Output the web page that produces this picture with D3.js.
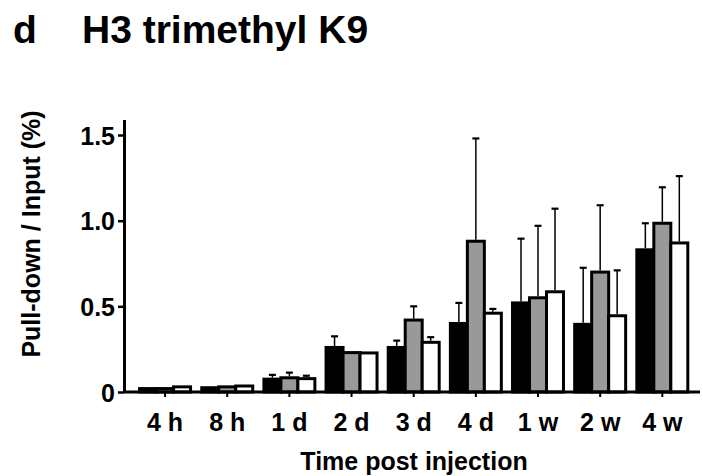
<!DOCTYPE html>
<html>
<head>
<meta charset="utf-8">
<script src="https://cdn.jsdelivr.net/npm/d3@7"></script>
<style>
  body { margin: 0; background: #fff; }
  text { font-family: "Liberation Sans", Arial, sans-serif; font-weight: bold; fill: #000; }
</style>
</head>
<body>
<svg></svg>
<script>
const categories = ['4 h', '8 h', '1 d', '2 d', '3 d', '4 d', '1 w', '2 w', '4 w'];
const seriesNames = ['black', 'gray', 'white'];
// bar heights (%)
const blackVals = [0.02, 0.025, 0.075, 0.26, 0.26, 0.40, 0.52, 0.395, 0.83];
const grayVals  = [0.02, 0.03, 0.083, 0.23, 0.42, 0.88, 0.55, 0.70, 0.985];
const whiteVals = [0.03, 0.035, 0.078, 0.228, 0.29, 0.46, 0.585, 0.445, 0.87];
// upper error (SD)
const blackErr = [0, 0, 0.025, 0.065, 0.04, 0.12, 0.375, 0.33, 0.155];
const grayErr  = [0, 0, 0.03, 0, 0.08, 0.6, 0.42, 0.39, 0.21];
const whiteErr = [0, 0, 0.017, 0, 0.03, 0.025, 0.485, 0.265, 0.39];
const yTicks = [0, 0.5, 1.0, 1.5];

const width = 703;
const height = 476;

const fills = { black: '#000000', gray: '#999999', white: '#ffffff' };
const vals = { black: blackVals, gray: grayVals, white: whiteVals };
const errs = { black: blackErr, gray: grayErr, white: whiteErr };

const data = [];
categories.forEach((c, i) => {
  seriesNames.forEach((s) => {
    data.push({ cat: c, series: s, value: vals[s][i], err: errs[s][i] });
  });
});

const svg = d3.select('svg')
  .attr('width', width)
  .attr('height', height);

const xScale = d3.scaleBand()
  .domain(categories)
  .range([134, 693.4])
  .paddingInner(0.18)
  .paddingOuter(0.09);

const xInner = d3.scaleBand()
  .domain(seriesNames)
  .range([0, xScale.bandwidth()]);

const yScale = d3.scaleLinear()
  .domain([0, 1.59])
  .range([392, 119.6]);

// title
svg.append('text')
  .attr('x', 13).attr('y', 43)
  .style('font-size', '39px')
  .text('d');
svg.append('text')
  .attr('x', 82).attr('y', 43)
  .style('font-size', '39px')
  .text('H3 trimethyl K9');

// bars
svg.append('g')
  .selectAll('rect')
  .data(data)
  .enter()
  .append('rect')
    .attr('x', (d) => xScale(d.cat) + xInner(d.series))
    .attr('y', (d) => yScale(d.value))
    .attr('width', xInner.bandwidth())
    .attr('height', (d) => yScale(0) - yScale(d.value))
    .attr('fill', (d) => fills[d.series])
    .attr('stroke', '#000')
    .attr('stroke-width', 3);

// error bars
const errData = data.filter((d) => d.err > 0);
const eb = svg.append('g')
  .selectAll('g')
  .data(errData)
  .enter()
  .append('g')
    .attr('transform', (d) => `translate(${xScale(d.cat) + xInner(d.series) + xInner.bandwidth() / 2},0)`);
eb.append('line')
  .attr('x1', 0).attr('x2', 0)
  .attr('y1', (d) => yScale(d.value) - 1.5)
  .attr('y2', (d) => yScale(d.value + d.err))
  .attr('stroke', '#000')
  .attr('stroke-width', 1.5);
eb.append('line')
  .attr('x1', -3.5).attr('x2', 3.5)
  .attr('y1', (d) => yScale(d.value + d.err))
  .attr('y2', (d) => yScale(d.value + d.err))
  .attr('stroke', '#000')
  .attr('stroke-width', 2.2);

// y axis
const yAxis = svg.append('g')
  .attr('transform', 'translate(124,0)')
  .call(d3.axisLeft(yScale)
    .tickValues(yTicks)
    .tickSize(6)
    .tickSizeOuter(0)
    .tickPadding(3)
    .tickFormat((d) => d === 0 ? '0' : d.toFixed(1)));
yAxis.select('.domain').attr('stroke-width', 3);
yAxis.selectAll('.tick line').attr('stroke-width', 2.5);
yAxis.selectAll('.tick text')
  .style('font-size', '25px')
  .style('font-family', '"Liberation Sans", Arial, sans-serif')
  .style('font-weight', 'bold')
  .attr('dy', '0.36em');

// x axis
const xAxis = svg.append('g')
  .attr('transform', `translate(0,${yScale(0)})`)
  .call(d3.axisBottom(xScale)
    .tickSize(5)
    .tickSizeOuter(0)
    .tickPadding(16));
xAxis.select('.domain').remove();
xAxis.selectAll('.tick line').attr('stroke-width', 2);
xAxis.selectAll('.tick text')
  .style('font-size', '25px')
  .style('font-family', '"Liberation Sans", Arial, sans-serif')
  .style('font-weight', 'bold');
xAxis.append('line')
  .attr('x1', 124).attr('x2', 700)
  .attr('y1', 0).attr('y2', 0)
  .attr('stroke', '#000')
  .attr('stroke-width', 3);

// axis titles
svg.append('text')
  .attr('transform', 'translate(40,234) rotate(-90)')
  .attr('text-anchor', 'middle')
  .style('font-size', '25px')
  .text('Pull-down / Input (%)');
svg.append('text')
  .attr('x', 414).attr('y', 470)
  .attr('text-anchor', 'middle')
  .style('font-size', '25px')
  .text('Time post injection');
</script>
</body>
</html>
